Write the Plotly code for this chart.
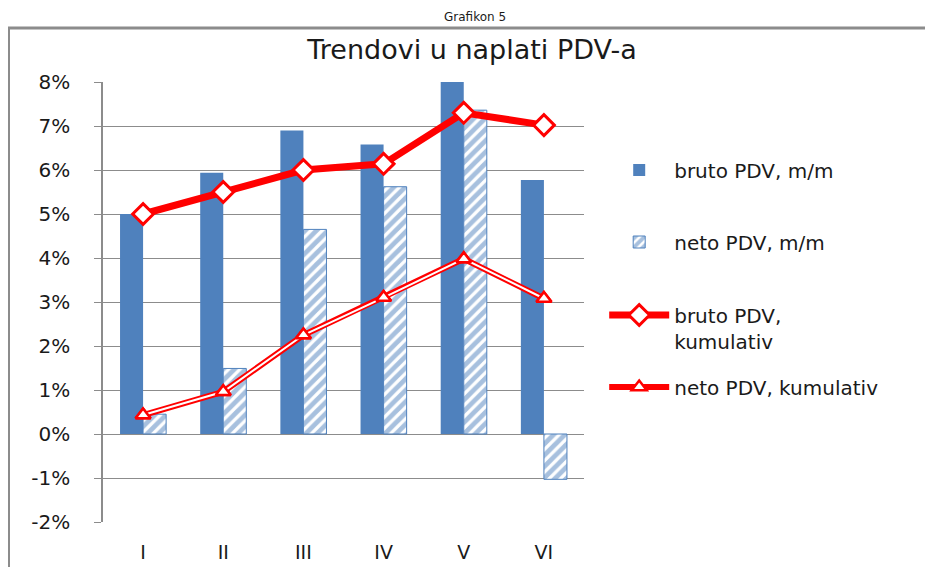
import plotly.graph_objects as go

# data (values in %)
months = ["I", "II", "III", "IV", "V", "VI"]
bruto_mm = [5.0, 5.94, 6.9, 6.58, 8.05, 5.77]
neto_mm = [0.45, 1.49, 4.65, 5.62, 7.36, -1.03]
bruto_kum = [5.0, 5.5, 6.0, 6.14, 7.3, 7.02]
neto_kum = [0.43, 0.96, 2.25, 3.1, 3.98, 3.08]
y_ticks = [-2, -1, 0, 1, 2, 3, 4, 5, 6, 7, 8]
y_labels = [f"{v}%" for v in y_ticks]

BLUE = "#4F81BD"
RED = "#FF0000"
GRID = "#8C8C8C"
FONT = "DejaVu Sans"

fig = go.Figure()

fig.add_trace(go.Bar(
    x=months, y=bruto_mm, name="bruto PDV, m/m",
    marker=dict(color=BLUE, line=dict(width=0)),
    legend="legend"))

fig.add_trace(go.Bar(
    x=months, y=neto_mm, name="neto PDV, m/m",
    marker=dict(color="white", line=dict(color=BLUE, width=1),
                pattern=dict(shape="/", fgcolor=BLUE, bgcolor="white",
                             size=8, solidity=0.6)),
    legend="legend2"))

fig.add_trace(go.Scatter(
    x=months, y=bruto_kum, name="bruto PDV,<br>kumulativ",
    mode="lines+markers",
    line=dict(color=RED, width=7),
    marker=dict(symbol="diamond", size=16, color="white",
                line=dict(color=RED, width=3)),
    legend="legend3"))

# neto kumulativ: double line = thick red + thin white on top
fig.add_trace(go.Scatter(
    x=months, y=neto_kum, name="neto PDV, kumulativ",
    mode="lines+markers",
    line=dict(color=RED, width=6),
    marker=dict(symbol="triangle-up", size=13, color="white",
                line=dict(color=RED, width=2.5)),
    legend="legend4"))
fig.add_trace(go.Scatter(
    x=months, y=neto_kum, mode="lines",
    line=dict(color="white", width=2),
    showlegend=False, hoverinfo="skip"))
fig.add_trace(go.Scatter(
    x=months, y=neto_kum, mode="markers",
    marker=dict(symbol="triangle-up", size=13, color="white",
                line=dict(color=RED, width=2.5)),
    showlegend=False, hoverinfo="skip"))

leg = dict(font=dict(family=FONT, size=20, color="#1a1a1a"),
           bgcolor="rgba(0,0,0,0)", borderwidth=0, itemwidth=60,
           xanchor="left", yanchor="middle", x=1.042)

# the page body adds 8px around the figure, so the figure is 8px smaller
fig.update_layout(
    width=925, height=559,
    margin=dict(l=95, r=349, t=74, b=45, autoexpand=False),
    paper_bgcolor="white", plot_bgcolor="white",
    font=dict(family=FONT, size=20, color="#1a1a1a"),
    title=dict(text="Trendovi u naplati PDV-a", x=0.5016, xanchor="center",
               y=0.9249, yanchor="middle", automargin=False,
               font=dict(family=FONT, size=27, color="#1a1a1a")),
    barmode="group", bargap=0.425, bargroupgap=0,
    xaxis=dict(type="category", showgrid=False, showline=False,
               zeroline=False, ticks="outside", ticklen=13,
               tickcolor="rgba(0,0,0,0)",
               tickfont=dict(family=FONT, size=19)),
    xaxis2=dict(overlaying="x", anchor="free", position=0.2,
                range=[-0.5, 5.5], tickvals=[0.5, 1.5, 2.5, 3.5, 4.5, 5.5],
                showticklabels=False, ticks="outside", ticklen=7,
                tickcolor=GRID, showline=True, linecolor=GRID,
                linewidth=1.5, showgrid=False, zeroline=False),
    yaxis=dict(range=[-2, 8], tickvals=y_ticks, ticktext=y_labels,
               showgrid=True, gridcolor=GRID, gridwidth=1,
               zeroline=False, showline=True, linecolor=GRID, linewidth=1.5,
               ticks="outside", ticklen=7, tickcolor=GRID,
               ticklabelstandoff=20,
               tickfont=dict(family=FONT, size=20)),
    legend=dict(leg, y=(522 - 170) / 440),
    legend2=dict(leg, y=(522 - 242) / 440),
    legend3=dict(leg, y=(522 - 328) / 440, valign="top"),
    legend4=dict(leg, y=(522 - 387) / 440),
    annotations=[dict(text="Grafikon 5", xref="paper", yref="paper",
                      x=(475 - 103) / 481, y=(522 - 26) / 440,
                      xanchor="center", yanchor="bottom", showarrow=False,
                      font=dict(family=FONT, size=12, color="#1a1a1a"))],
    shapes=[dict(type="rect", xref="paper", yref="paper", layer="below",
                 x0=(8.5 - 103) / 481, x1=(960 - 103) / 481,
                 y0=(522 - 600) / 440, y1=(522 - 28) / 440,
                 line=dict(color=GRID, width=3))],
)

fig.write_html("out.html")
